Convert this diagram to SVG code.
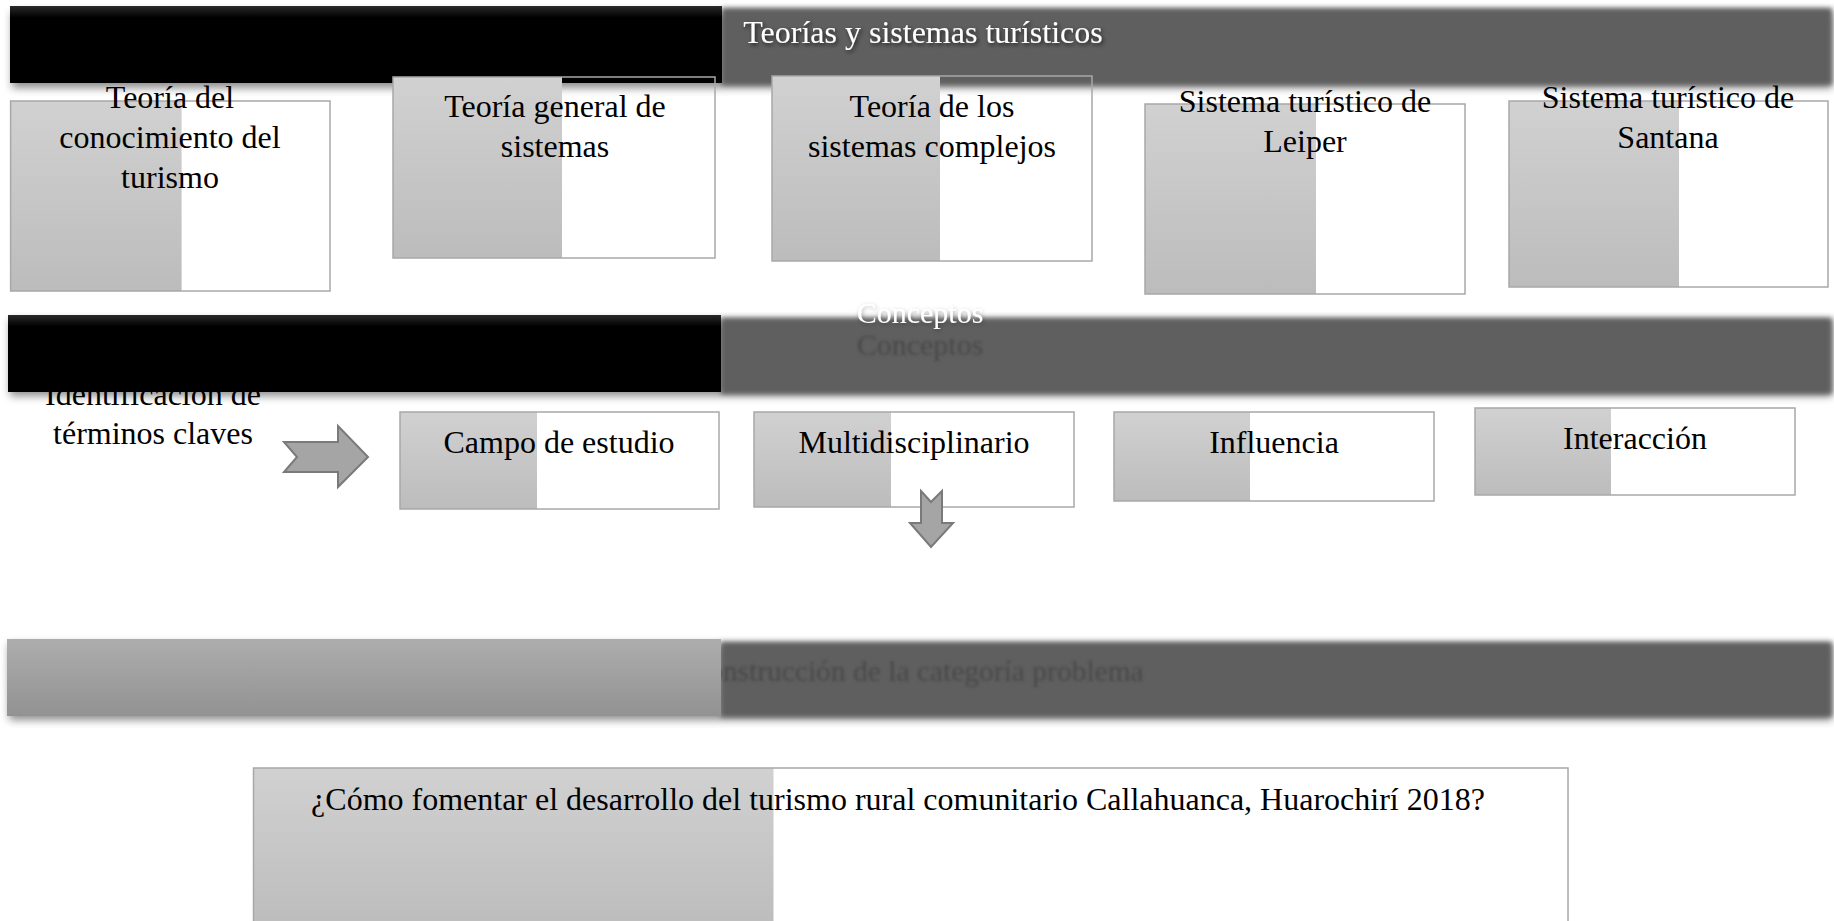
<svg xmlns="http://www.w3.org/2000/svg" width="1834" height="921" viewBox="0 0 1834 921">
<style>
.t{font-family:"Liberation Serif","Times New Roman",serif;font-size:32px;fill:#000;text-anchor:middle}
.box{fill:none;stroke:#a8a8a8;stroke-width:1.5}
.half{fill:url(#hg)}
.band{fill:#5f5f5f;filter:url(#soft)}
.shadow{fill:#000;opacity:.45;filter:url(#sh)}
.arrow{fill:#a5a5a5;stroke:#7a7a7a;stroke-width:2;stroke-linejoin:miter}
</style>
<defs>
<linearGradient id="hg" x1="0" y1="0" x2="0" y2="1"><stop offset="0" stop-color="#d1d1d1"/><stop offset="1" stop-color="#bcbcbc"/></linearGradient>
<linearGradient id="bg" x1="0" y1="0" x2="0" y2="1"><stop offset="0" stop-color="#2a2a2a"/><stop offset="0.15" stop-color="#000"/><stop offset="1" stop-color="#000"/></linearGradient>
<linearGradient id="lg" x1="0" y1="0" x2="0" y2="1"><stop offset="0" stop-color="#adadad"/><stop offset="1" stop-color="#929292"/></linearGradient>
<filter id="soft" x="-5%" y="-20%" width="110%" height="140%"><feGaussianBlur stdDeviation="2.5"/></filter>
<filter id="sh" x="-5%" y="-30%" width="110%" height="160%"><feGaussianBlur stdDeviation="4"/></filter>
<filter id="tblur" x="-10%" y="-50%" width="120%" height="200%"><feGaussianBlur stdDeviation="1.6"/></filter>
<filter id="tsh" x="-10%" y="-50%" width="120%" height="200%"><feDropShadow dx="1.5" dy="2" stdDeviation="2" flood-color="#000" flood-opacity=".7"/></filter>
<filter id="tsh2" x="-10%" y="-50%" width="120%" height="200%"><feDropShadow dx="1" dy="1.5" stdDeviation="2" flood-color="#000" flood-opacity=".3"/></filter>
</defs>

<g id="banner-teorias">
<rect class="shadow" x="12" y="12" width="1820" height="76"/>
<rect class="band" x="722" y="8" width="1110" height="77"/>
<rect x="10" y="6" width="712" height="77" fill="url(#bg)"/>
<text class="t" x="923" y="43" style="fill:#fff" filter="url(#tsh)">Teorías y sistemas turísticos</text>
</g>

<g id="n-teoria-conocimiento">
<rect class="half" x="10.6" y="101" width="171" height="190"/>
<rect class="box" x="10.6" y="101" width="319.4" height="190"/>
<text class="t" x="170" y="108">Teoría del</text>
<text class="t" x="170" y="148">conocimiento del</text>
<text class="t" x="170" y="188">turismo</text>
</g>
<g id="n-teoria-general">
<rect class="half" x="393" y="77" width="169" height="181"/>
<rect class="box" x="393" y="77" width="322" height="181"/>
<text class="t" x="555" y="117">Teoría general de</text>
<text class="t" x="555" y="157">sistemas</text>
</g>
<g id="n-teoria-complejos">
<rect class="half" x="772" y="76" width="168" height="185"/>
<rect class="box" x="772" y="76" width="320" height="185"/>
<text class="t" x="932" y="117">Teoría de los</text>
<text class="t" x="932" y="157">sistemas complejos</text>
</g>
<g id="n-leiper">
<rect class="half" x="1145" y="104" width="171" height="190"/>
<rect class="box" x="1145" y="104" width="320" height="190"/>
<text class="t" x="1305" y="112">Sistema turístico de</text>
<text class="t" x="1305" y="152">Leiper</text>
</g>
<g id="n-santana">
<rect class="half" x="1509" y="101" width="170" height="186"/>
<rect class="box" x="1509" y="101" width="319" height="186"/>
<text class="t" x="1668" y="108">Sistema turístico de</text>
<text class="t" x="1668" y="148">Santana</text>
</g>

<g id="n-identificacion">
<text class="t" x="153" y="405">Identificación de</text>
<text class="t" x="153" y="444">términos claves</text>
</g>

<g id="banner-conceptos">
<rect class="shadow" x="10" y="320" width="1822" height="76"/>
<rect class="band" x="721" y="318" width="1111" height="76"/>
<rect x="8" y="315" width="713" height="77" fill="url(#bg)"/>
<text class="t" x="920" y="355" style="fill:#474747;font-size:30px" filter="url(#tblur)">Conceptos</text>
<text class="t" x="920" y="323" style="fill:#fff;font-size:30px" filter="url(#tsh2)">Conceptos</text>
</g>

<g id="n-campo">
<rect class="half" x="400" y="412" width="137" height="97"/>
<rect class="box" x="400" y="412" width="319" height="97"/>
<text class="t" x="559" y="453">Campo de estudio</text>
</g>
<g id="n-multi">
<rect class="half" x="754" y="412" width="137" height="95"/>
<rect class="box" x="754" y="412" width="320" height="95"/>
<text class="t" x="914" y="453">Multidisciplinario</text>
</g>
<g id="n-influencia">
<rect class="half" x="1114" y="412" width="136" height="89"/>
<rect class="box" x="1114" y="412" width="320" height="89"/>
<text class="t" x="1274" y="453">Influencia</text>
</g>
<g id="n-interaccion">
<rect class="half" x="1475" y="408" width="136" height="87"/>
<rect class="box" x="1475" y="408" width="320" height="87"/>
<text class="t" x="1635" y="449">Interacción</text>
</g>

<g id="connectors">
<path class="arrow" d="M284,442 L338,442 L338,426 L368,457 L338,487 L338,472 L284,472 L297,457 Z"/>
<path class="arrow" d="M921,491 L931,502 L942,491 L942,523 L953,523 L931,547 L910,523 L921,523 Z"/>
</g>

<g id="banner-problema">
<rect class="shadow" x="9" y="644" width="1823" height="76"/>
<rect class="band" x="721" y="642" width="1111" height="75"/>
<text class="t" x="916" y="681" style="fill:#474747;font-size:29.5px" filter="url(#tblur)">Construcción de la categoría problema</text>
<rect x="7" y="639" width="714" height="77" fill="url(#lg)"/>
</g>

<g id="n-pregunta">
<rect class="half" x="253.5" y="768" width="520" height="162"/>
<rect class="box" x="253.5" y="768" width="1314.5" height="162"/>
<text class="t" x="898" y="810">¿Cómo fomentar el desarrollo del turismo rural comunitario Callahuanca, Huarochirí 2018?</text>
</g>
</svg>
